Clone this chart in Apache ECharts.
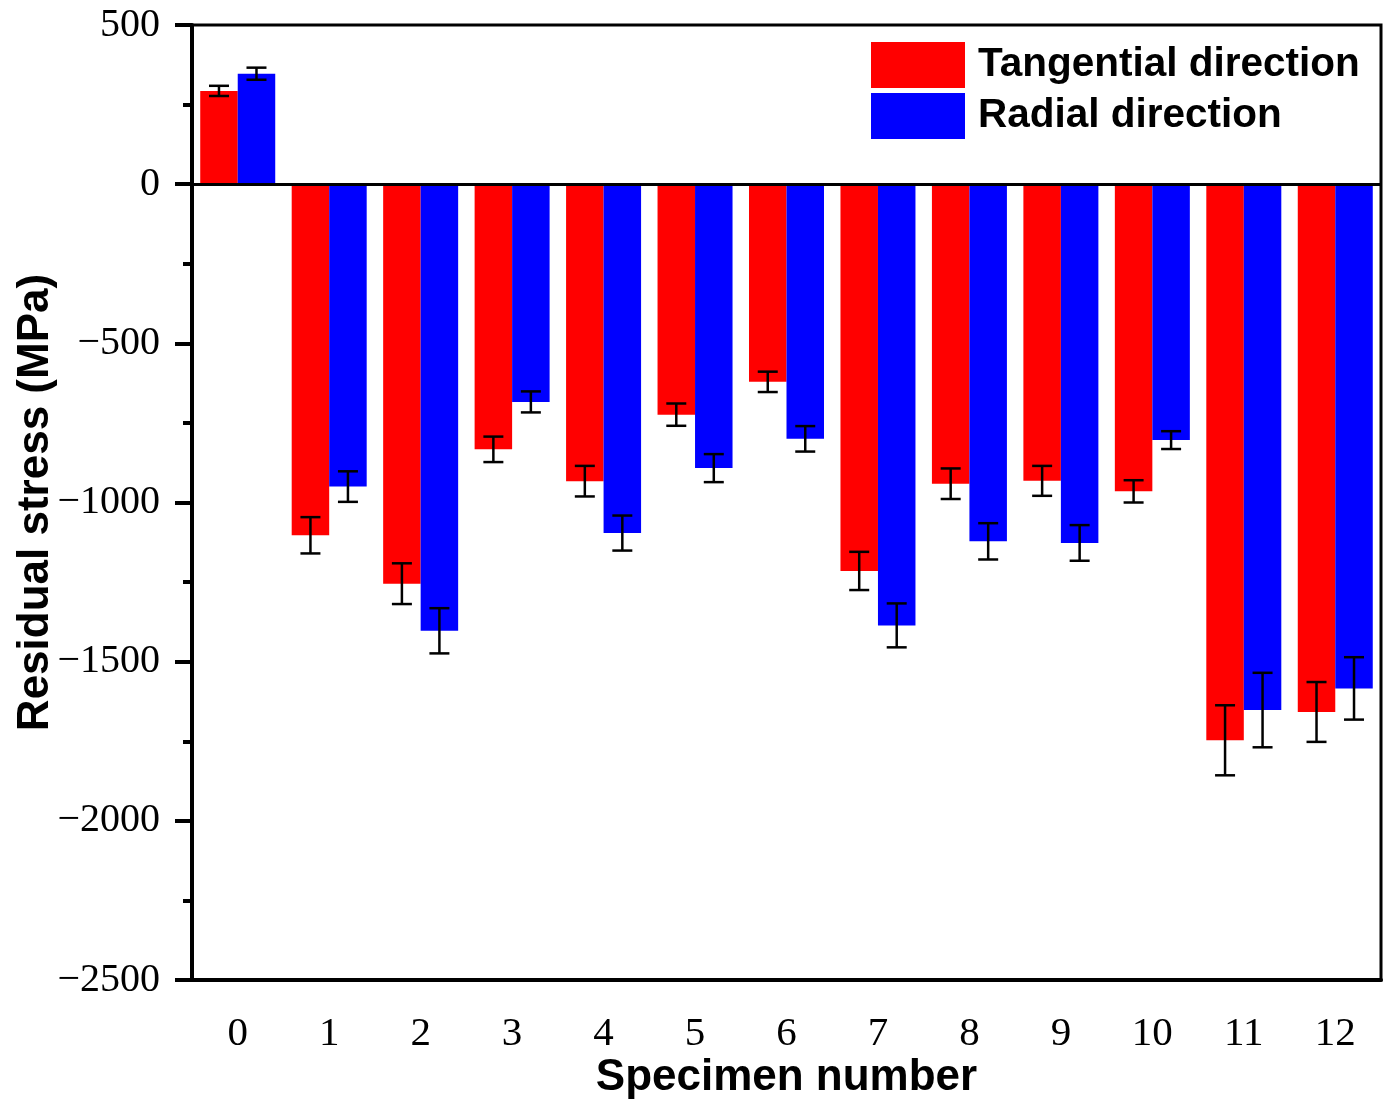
<!DOCTYPE html>
<html>
<head>
<meta charset="utf-8">
<script src="https://cdn.jsdelivr.net/npm/echarts@6/dist/echarts.min.js"></script>
<style>html,body{margin:0;padding:0;background:#fff}#c{width:1389px;height:1100px}</style>
</head>
<body>
<div id="c"></div>
<script>
var categories = ['0','1','2','3','4','5','6','7','8','9','10','11','12'];
var tangential = [293, -1103, -1255, -833, -933, -724, -621, -1215, -941, -932, -965, -1747, -1658];
var tangentialErr = [16, 57, 64, 40, 48, 35, 32, 60, 48, 47, 35, 110, 94];
var radial = [347, -950, -1403, -684, -1096, -892, -800, -1386, -1122, -1127, -804, -1652, -1584];
var radialErr = [19, 48, 71, 33, 55, 44, 40, 69, 57, 56, 28, 117, 98];
var seriesNames = ['Tangential direction', 'Radial direction'];

var BAR_W = 37.5;
function errData(vals, errs) {
  return vals.map(function (v, i) { return [i, v, errs[i]]; });
}
function errRender(offset) {
  return function (params, api) {
    var x = api.value(0), v = api.value(1), e = api.value(2);
    var hi = api.coord([x, v + e]);
    var lo = api.coord([x, v - e]);
    var cx = hi[0] + offset;
    var cap = 10;
    var st = { stroke: '#000', lineWidth: 2.5 };
    return {
      type: 'group',
      children: [
        { type: 'line', shape: { x1: cx, y1: hi[1], x2: cx, y2: lo[1] }, style: st },
        { type: 'line', shape: { x1: cx - cap, y1: hi[1], x2: cx + cap, y2: hi[1] }, style: st },
        { type: 'line', shape: { x1: cx - cap, y1: lo[1], x2: cx + cap, y2: lo[1] }, style: st }
      ]
    };
  };
}

var chart = echarts.init(document.getElementById('c'));
chart.setOption({
  animation: false,
  backgroundColor: '#fff',
  grid: { left: 192, right: 8, top: 25, bottom: 120, show: true, borderColor: '#000', borderWidth: 3, containLabel: false, outerBoundsMode: 'none' },
  legend: {
    data: seriesNames,
    orient: 'vertical',
    left: 871, top: 42,
    padding: 0,
    itemWidth: 94, itemHeight: 46, itemGap: 5,
    icon: 'rect',
    textStyle: { fontFamily: 'Liberation Sans', fontWeight: 'bold', fontSize: 40.5, color: '#000', padding: [0, 0, 0, 8] }
  },
  xAxis: {
    type: 'category',
    data: categories,
    name: 'Specimen number',
    nameLocation: 'middle',
    nameGap: 76,
    nameMoveOverlap: false,
    nameTextStyle: { fontFamily: 'Liberation Sans', fontWeight: 'bold', fontSize: 44, color: '#000' },
    axisLine: { onZero: false, lineStyle: { color: '#000', width: 4 } },
    axisTick: { alignWithLabel: true, length: 17, lineStyle: { color: '#000', width: 4 } },
    axisLabel: { margin: 34, fontFamily: 'Liberation Serif', fontSize: 41, color: '#000' },
    splitLine: { show: false }
  },
  yAxis: {
    type: 'value',
    min: -2500, max: 500, interval: 500,
    name: 'Residual stress (MPa)',
    nameLocation: 'middle',
    nameGap: 134,
    nameMoveOverlap: false,
    nameTextStyle: { fontFamily: 'Liberation Sans', fontWeight: 'bold', fontSize: 44, color: '#000' },
    axisLine: { show: true, lineStyle: { color: '#000', width: 4 } },
    axisTick: { show: true, length: 17, lineStyle: { color: '#000', width: 4 } },
    minorTick: { show: true, splitNumber: 2, length: 9, lineStyle: { color: '#000', width: 4 } },
    axisLabel: {
      margin: 32, fontFamily: 'Liberation Serif', fontSize: 40, color: '#000',
      formatter: function (v) { return String(v).replace('-', '\u2212'); }
    },
    splitLine: { show: false }
  },
  series: [
    {
      name: seriesNames[0], type: 'bar', data: tangential, barWidth: BAR_W, barGap: '0%',
      itemStyle: { color: '#ff0000' },
      markLine: {
        silent: true, symbol: 'none', label: { show: false },
        lineStyle: { color: '#000', width: 3, type: 'solid' },
        data: [{ yAxis: 0 }]
      }
    },
    {
      name: seriesNames[1], type: 'bar', data: radial, barWidth: BAR_W, barGap: '0%',
      itemStyle: { color: '#0000ff' }
    },
    {
      name: 'errT', type: 'custom', renderItem: errRender(-BAR_W / 2),
      data: errData(tangential, tangentialErr), encode: { x: 0, y: 1 }, z: 10, silent: true
    },
    {
      name: 'errR', type: 'custom', renderItem: errRender(BAR_W / 2),
      data: errData(radial, radialErr), encode: { x: 0, y: 1 }, z: 10, silent: true
    }
  ]
});
</script>
</body>
</html>
